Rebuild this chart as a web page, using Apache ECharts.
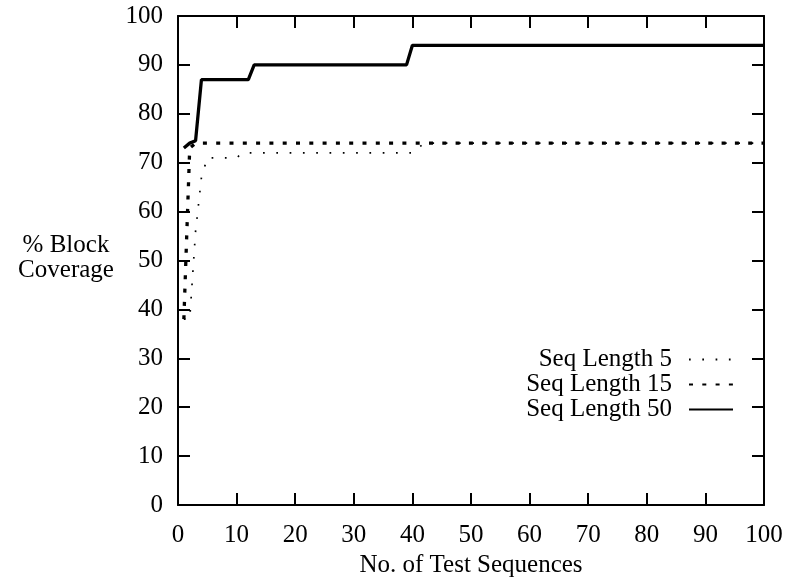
<!DOCTYPE html>
<html>
<head>
<meta charset="utf-8">
<script src="https://cdn.jsdelivr.net/npm/echarts@6/dist/echarts.min.js"></script>
<style>
  html, body { margin: 0; padding: 0; background: #fff; }
  #main { width: 785px; height: 579px; }
</style>
</head>
<body>
<div id="main"></div>
<script>
// points (x = no. of test sequences, y = % block coverage)
var seq5X  = [1, 2, 3, 4, 5, 10, 11, 40, 41, 42, 100];
var seq5Y  = [38, 38, 56, 67, 71, 71, 72, 72, 73, 74, 74];
var seq15X = [1, 2, 3, 100];
var seq15Y = [38, 73, 74, 74];
var seq50X = [1, 2, 3, 4, 12, 13, 39, 40, 100];
var seq50Y = [73, 74, 74.5, 87, 87, 90, 90, 94, 94];

var seriesNames = ['Seq Length 5', 'Seq Length 15', 'Seq Length 50'];
var xTicks = [0, 100, 10];   // min, max, step
var yTicks = [0, 100, 10];

function pairs(xs, ys) {
  var out = [];
  for (var i = 0; i < xs.length; i++) out.push([xs[i], ys[i]]);
  return out;
}

(function () {
  var dom = document.getElementById('main');
  var myChart = echarts.init(dom, null, { renderer: 'canvas' });
  var font = 'Liberation Serif';
  var frame = { show: true, onZero: false, lineStyle: { color: '#000', width: 2 } };
  var ticks = { show: true, inside: true, length: 12, lineStyle: { color: '#000', width: 2 } };

  var option = {
    backgroundColor: '#fff',
    animation: false,
    textStyle: { fontFamily: font, color: '#000' },
    grid: { left: 178, right: 21, top: 16, bottom: 74, outerBoundsMode: 'none', containLabel: false },
    xAxis: [
      {
        type: 'value', position: 'bottom',
        min: xTicks[0], max: xTicks[1], interval: xTicks[2],
        axisLine: frame, axisTick: ticks, splitLine: { show: false },
        axisLabel: { fontFamily: font, fontSize: 25, color: '#000', margin: 18 },
        name: 'No. of Test Sequences', nameLocation: 'middle', nameGap: 42,
        nameTextStyle: { fontFamily: font, fontSize: 25, color: '#000' }
      },
      {
        type: 'value', position: 'top',
        min: xTicks[0], max: xTicks[1], interval: xTicks[2],
        axisLine: frame, axisTick: ticks, splitLine: { show: false },
        axisLabel: { show: false }
      }
    ],
    yAxis: [
      {
        type: 'value', position: 'left',
        min: yTicks[0], max: yTicks[1], interval: yTicks[2],
        axisLine: frame, axisTick: ticks, splitLine: { show: false },
        axisLabel: { fontFamily: font, fontSize: 25, color: '#000', margin: 15, padding: [6, 0, 0, 0] }
      },
      {
        type: 'value', position: 'right',
        min: yTicks[0], max: yTicks[1], interval: yTicks[2],
        axisLine: frame, axisTick: ticks, splitLine: { show: false },
        axisLabel: { show: false }
      }
    ],
    graphic: [{
      type: 'text', x: 66, y: 258,
      style: {
        text: '% Block\nCoverage', fill: '#000',
        font: '25px "Liberation Serif"', align: 'center', verticalAlign: 'middle',
        lineHeight: 25
      }
    }],
    legend: {
      orient: 'vertical', align: 'right',
      right: 46, top: 342,
      itemWidth: 44, itemHeight: 14, itemGap: 0,
      itemStyle: { opacity: 0 },
      textStyle: { fontFamily: font, fontSize: 25, color: '#000', lineHeight: 24.5, padding: [0, 12, 0, 0] },
      data: seriesNames
    },
    series: [
      {
        name: seriesNames[0], type: 'line', symbol: 'none',
        itemStyle: { color: '#000' },
        lineStyle: { color: '#000', width: 1.7, type: [1.7, 11.6], cap: 'butt' },
        data: pairs(seq5X, seq5Y)
      },
      {
        name: seriesNames[1], type: 'line', symbol: 'none',
        itemStyle: { color: '#000' },
        lineStyle: { color: '#000', width: 3.3, type: [4, 9.3], cap: 'butt' },
        data: pairs(seq15X, seq15Y)
      },
      {
        name: seriesNames[2], type: 'line', symbol: 'none',
        itemStyle: { color: '#000' },
        lineStyle: { color: '#000', width: 3.3, type: 'solid' },
        data: pairs(seq50X, seq50Y)
      }
    ]
  };
  if (option && typeof option === 'object') {
    myChart.setOption(option, true);
  }
})();
</script>
</body>
</html>
